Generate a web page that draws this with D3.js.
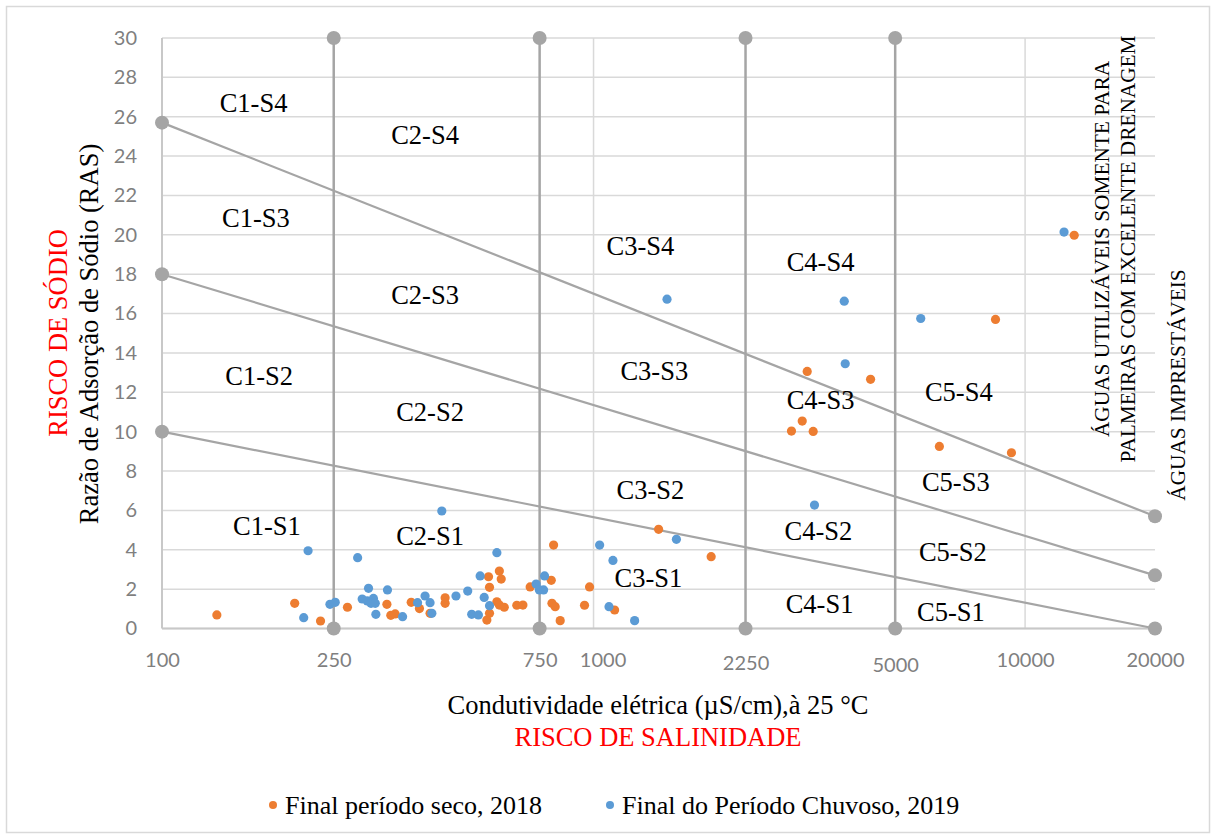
<!DOCTYPE html>
<html>
<head>
<meta charset="utf-8">
<script src="https://cdn.jsdelivr.net/npm/d3@7"></script>
<style>
    body { margin: 0; background: #fff; }
    svg text { font-family: "Liberation Serif", "Times New Roman", serif; }
    .tick text { font-family: Lato, "Open Sans", sans-serif; fill: #7f7f7f; }
</style>
</head>
<body>
<div id="chart"></div>
<script>

// ---- data ----

// Final período seco, 2018 : [CE µS/cm, RAS]
var seco2018 = [
    [134, 0.69], [203, 1.28], [233, 0.38], [269, 1.08], [332, 1.23], [339, 0.67],
    [347, 0.74], [378, 1.33], [395, 1.01], [418, 0.77], [453, 1.56], [453, 1.28],
    [571, 2.63], [574, 2.09], [605, 2.92], [611, 2.51], [597, 1.36], [605, 1.19],
    [621, 1.08], [566, 0.43], [574, 0.77], [664, 1.18], [686, 1.19], [713, 2.11],
    [798, 2.45], [808, 4.24], [801, 1.28], [815, 1.11], [837, 0.40], [953, 1.18],
    [979, 2.11], [1119, 0.94], [1415, 5.04], [1873, 3.65], [3127, 13.06], [4385, 12.66],
    [3045, 10.54], [2875, 10.03], [3228, 10.01], [6330, 9.25], [9298, 8.93], [8540, 15.70],
    [12996, 19.98]
];

// Final do Período Chuvoso, 2019
var chuvoso2019 = [
    [218, 3.95], [213, 0.55], [245, 1.23], [252, 1.33], [284, 3.60], [301, 2.04],
    [333, 1.96], [291, 1.50], [299, 1.40], [309, 1.53], [305, 1.28], [312, 1.28],
    [313, 0.72], [361, 0.60], [391, 1.31], [407, 1.65], [418, 1.31], [422, 0.77],
    [445, 5.97], [480, 1.65], [511, 1.90], [546, 2.67], [558, 1.58], [574, 1.16],
    [522, 0.72], [541, 0.69], [597, 3.85], [736, 2.26], [770, 2.67], [749, 1.96],
    [766, 1.96], [1033, 4.24], [1109, 3.46], [1556, 4.53], [1086, 1.11], [1245, 0.40],
    [3251, 6.27], [3810, 16.63], [3830, 13.45], [5730, 15.75], [12310, 20.14], [1480, 16.73]
];

// salinity class limits (vertical lines)
var salinityLimits = [250, 750, 2250, 5000];

// sodium class limits (diagonal lines): [x0, y0, x1, y1]
var sodiumLimits = [
    [100, 25.7, 20000, 5.7],
    [100, 18, 20000, 2.7],
    [100, 10, 20000, 0]
];

var xTickValues = [100, 250, 750, 1000, 2250, 5000, 10000, 20000];
var xGridValues = [1000, 10000];
var yTickValues = d3.range(0, 31, 2);

// class labels : [text, CE, RAS]
var classLabels = [
    ['C1-S4', 163, 26.7], ['C2-S4', 407, 25.06], ['C1-S3', 165, 20.85],
    ['C2-S3', 407, 16.94], ['C3-S4', 1284, 19.43], ['C4-S4', 3357, 18.61],
    ['C1-S2', 168, 12.82], ['C3-S3', 1383, 13.08], ['C2-S2', 418, 10.99],
    ['C4-S3', 3357, 11.6], ['C5-S4', 7020, 12.01], ['C3-S2', 1354, 7.03],
    ['C5-S3', 6910, 7.44], ['C1-S1', 175, 5.21], ['C2-S1', 418, 4.70],
    ['C4-S2', 3320, 4.95], ['C5-S2', 6800, 3.89], ['C3-S1', 1340, 2.56],
    ['C4-S1', 3340, 1.24], ['C5-S1', 6730, 0.84]
];

var seriesNames = ['Final período seco, 2018', 'Final do Período Chuvoso, 2019'];
var seriesColors = ['#ed7d31', '#5b9bd5'];

// ---- chart ----

var W = 1216, H = 838;
var margin = {top: 38, right: 61, bottom: 210, left: 162};
var width = 1155 - margin.left,
    height = 628.5 - margin.top;

var svg = d3.select('#chart').append('svg')
    .attr('width', W)
    .attr('height', H);

// outer frame
svg.append('rect')
    .attr('x', 6.5).attr('y', 6.5)
    .attr('width', W - 13).attr('height', H - 12)
    .attr('fill', '#fff')
    .attr('stroke', '#d9d9d9')
    .attr('stroke-width', 1.5);

var g = svg.append('g')
    .attr('transform', 'translate(' + margin.left + ',' + margin.top + ')');

var x = d3.scaleLog().domain([100, 20000]).range([0, width]);
var y = d3.scaleLinear().domain([0, 30]).range([height, 0]);

// grid
g.append('g').attr('class', 'grid-y')
    .selectAll('line').data(yTickValues).enter()
    .append('line')
    .attr('x1', 0).attr('x2', width)
    .attr('y1', d => y(d)).attr('y2', d => y(d))
    .attr('stroke', '#d9d9d9')
    .attr('stroke-width', 1.5);

g.append('g').attr('class', 'grid-x')
    .selectAll('line').data(xGridValues).enter()
    .append('line')
    .attr('x1', d => x(d)).attr('x2', d => x(d))
    .attr('y1', 0).attr('y2', height)
    .attr('stroke', '#d9d9d9')
    .attr('stroke-width', 1.5);

// axis lines
g.append('line')
    .attr('x1', 0).attr('x2', 0).attr('y1', 0).attr('y2', height)
    .attr('stroke', '#c8c8c8').attr('stroke-width', 2);
g.append('line')
    .attr('x1', 0).attr('x2', width).attr('y1', height).attr('y2', height)
    .attr('stroke', '#c8c8c8').attr('stroke-width', 2);

// axes (labels only)
var yAxis = d3.axisLeft(y).tickValues(yTickValues).tickSize(0).tickPadding(25);
var gY = g.append('g').call(yAxis);
gY.select('.domain').remove();
gY.selectAll('text').attr('font-size', 20);

var xAxis = d3.axisBottom(x).tickValues(xTickValues)
    .tickFormat(d3.format('d')).tickSize(0).tickPadding(24);
var gX = g.append('g').attr('transform', 'translate(0,' + height + ')').call(xAxis);
gX.select('.domain').remove();
gX.selectAll('text').attr('font-size', 20)
    .attr('dx', d => d === 1000 ? 9 : 0)
    .attr('dy', d => d === 2250 ? '0.85em' : (d === 5000 ? '0.95em' : '0.71em'));

// limit lines
var limitColor = '#a5a5a5';
var limits = g.append('g').attr('class', 'limits');

limits.selectAll('.vline').data(salinityLimits).enter()
    .append('line')
    .attr('class', 'vline')
    .attr('x1', d => x(d)).attr('x2', d => x(d))
    .attr('y1', y(0)).attr('y2', y(30))
    .attr('stroke', limitColor).attr('stroke-width', 2.5);

limits.selectAll('.dline').data(sodiumLimits).enter()
    .append('line')
    .attr('class', 'dline')
    .attr('x1', d => x(d[0])).attr('y1', d => y(d[1]))
    .attr('x2', d => x(d[2])).attr('y2', d => y(d[3]))
    .attr('stroke', limitColor).attr('stroke-width', 2.2);

var ends = [];
salinityLimits.forEach(function (v) { ends.push([v, 0], [v, 30]); });
sodiumLimits.forEach(function (d) { ends.push([d[0], d[1]], [d[2], d[3]]); });

limits.selectAll('.end').data(ends).enter()
    .append('circle')
    .attr('class', 'end')
    .attr('cx', d => x(d[0])).attr('cy', d => y(d[1]))
    .attr('r', 7)
    .attr('fill', limitColor);

// class labels
g.append('g').selectAll('text').data(classLabels).enter()
    .append('text')
    .attr('x', d => x(d[1])).attr('y', d => y(d[2]))
    .attr('text-anchor', 'middle')
    .attr('dominant-baseline', 'central')
    .attr('font-size', 26.5)
    .text(d => d[0]);

// points
[seco2018, chuvoso2019].forEach(function (series, i) {
    g.append('g').selectAll('circle').data(series).enter()
        .append('circle')
        .attr('cx', d => x(d[0])).attr('cy', d => y(d[1]))
        .attr('r', 4.6)
        .attr('fill', seriesColors[i]);
});

// right side notes
svg.append('text')
    .attr('transform', 'translate(1102,249) rotate(-90)')
    .attr('text-anchor', 'middle').attr('dominant-baseline', 'central')
    .attr('font-size', 21.3)
    .text('ÁGUAS UTILIZÁVEIS SOMENTE PARA');
svg.append('text')
    .attr('transform', 'translate(1128,249) rotate(-90)')
    .attr('text-anchor', 'middle').attr('dominant-baseline', 'central')
    .attr('font-size', 21.3)
    .text('PALMEIRAS COM EXCELENTE DRENAGEM');
svg.append('text')
    .attr('transform', 'translate(1178,385) rotate(-90)')
    .attr('text-anchor', 'middle').attr('dominant-baseline', 'central')
    .attr('font-size', 21.3)
    .text('ÁGUAS IMPRESTÁVEIS');

// axis titles
svg.append('text')
    .attr('x', 658).attr('y', 705)
    .attr('text-anchor', 'middle').attr('dominant-baseline', 'central')
    .attr('font-size', 26.5)
    .text('Condutividade elétrica (µS/cm),à 25 °C');
svg.append('text')
    .attr('x', 658).attr('y', 737)
    .attr('text-anchor', 'middle').attr('dominant-baseline', 'central')
    .attr('font-size', 26.5)
    .attr('fill', '#ff0000')
    .text('RISCO DE SALINIDADE');

svg.append('text')
    .attr('transform', 'translate(89,334) rotate(-90)')
    .attr('text-anchor', 'middle').attr('dominant-baseline', 'central')
    .attr('font-size', 26.5)
    .text('Razão de Adsorção de Sódio (RAS)');
svg.append('text')
    .attr('transform', 'translate(58,333) rotate(-90)')
    .attr('text-anchor', 'middle').attr('dominant-baseline', 'central')
    .attr('font-size', 26.5)
    .attr('fill', '#ff0000')
    .text('RISCO DE SÓDIO');

// legend
var legend = svg.append('g').attr('transform', 'translate(0,805)');
var legendX = [273, 610];
seriesNames.forEach(function (name, i) {
    legend.append('circle')
        .attr('cx', legendX[i]).attr('cy', 0)
        .attr('r', 4)
        .attr('fill', seriesColors[i]);
    legend.append('text')
        .attr('x', legendX[i] + 12).attr('y', 0)
        .attr('dominant-baseline', 'central')
        .attr('font-size', 26)
        .text(name);
});

</script>
</body>
</html>
